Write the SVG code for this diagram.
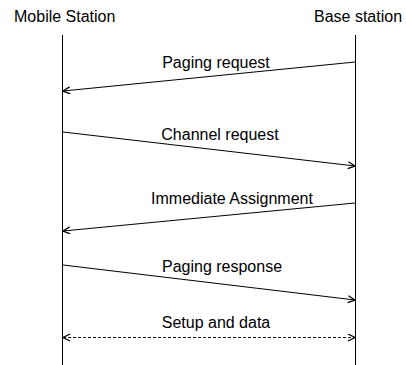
<svg xmlns="http://www.w3.org/2000/svg" width="406" height="365" viewBox="0 0 406 365">
  <style>
    text { font-family: "Liberation Sans", Arial, sans-serif; font-size: 16px; fill: #000; }
    .life { stroke: #000; stroke-width: 1; fill: none; }
    .msg { stroke: #000; stroke-width: 1; fill: none; marker-end: url(#open); }
    .dash { stroke-dasharray: 3 2; marker-start: url(#openStart); }
  </style>
  <defs>
    <marker id="open" markerWidth="10" markerHeight="10" refX="8" refY="4" orient="auto" markerUnits="userSpaceOnUse">
      <path d="M1,0.5 L8,4 L1,7.5" fill="none" stroke="#000" stroke-width="1.3"/>
    </marker>
    <marker id="openStart" markerWidth="10" markerHeight="10" refX="8" refY="4" orient="auto-start-reverse" markerUnits="userSpaceOnUse">
      <path d="M1,0.5 L8,4 L1,7.5" fill="none" stroke="#000" stroke-width="1.3"/>
    </marker>
  </defs>
  <rect width="406" height="365" fill="#fff"/>

  <g id="mobile-station">
    <text x="14" y="21.5">Mobile Station</text>
    <line class="life" x1="62.5" y1="35" x2="62.5" y2="366"/>
  </g>
  <g id="base-station">
    <text x="314" y="21.5">Base station</text>
    <line class="life" x1="355.5" y1="35" x2="355.5" y2="366"/>
  </g>

  <g id="connectors">
    <line class="msg" x1="355" y1="62" x2="63" y2="91"/>
    <text x="216" y="68" text-anchor="middle">Paging request</text>

    <line class="msg" x1="63" y1="132" x2="355" y2="166"/>
    <text x="220" y="140" text-anchor="middle">Channel request</text>

    <line class="msg" x1="355" y1="203" x2="63" y2="231"/>
    <text x="232" y="204" text-anchor="middle">Immediate Assignment</text>

    <line class="msg" x1="63" y1="265" x2="355" y2="300"/>
    <text x="222" y="272" text-anchor="middle">Paging response</text>

    <line class="msg dash" x1="63" y1="337.5" x2="355" y2="337.5"/>
    <text x="216" y="328" text-anchor="middle">Setup and data</text>
  </g>
</svg>
